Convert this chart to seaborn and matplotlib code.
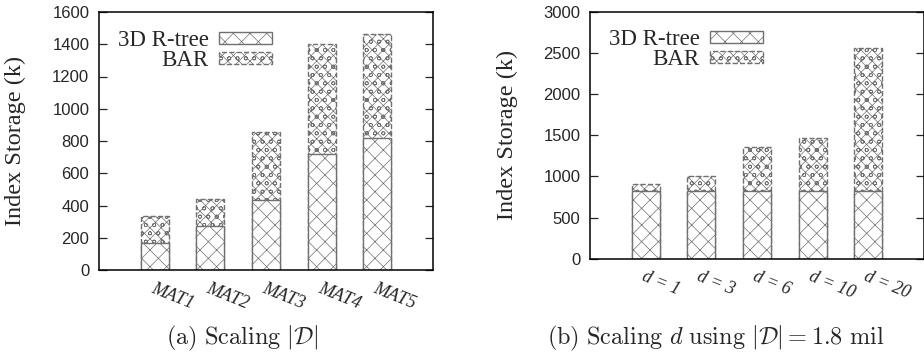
import numpy as np
import matplotlib
matplotlib.use('Agg')
import matplotlib.pyplot as plt
import seaborn as sns

# ── data ───────────────────────────────────────────────────────────────────
mat_labels = ['MAT1', 'MAT2', 'MAT3', 'MAT4', 'MAT5']
mat_rtree = [165, 270, 434, 717, 816]
mat_bar = [172, 168, 419, 682, 645]

d_labels = ['d = 1', 'd = 3', 'd = 6', 'd = 10', 'd = 20']
d_rtree = [819, 819, 819, 819, 819]
d_bar = [89, 190, 539, 644, 1747]

sns.set_style('ticks')
plt.rcParams['font.family'] = ['Liberation Serif', 'DejaVu Serif']
plt.rcParams['mathtext.fontset'] = 'cm'
plt.rcParams['hatch.linewidth'] = 0.5

EDGE = '#707070'
W, H = 924, 355

fig = plt.figure(figsize=(W / 100, H / 100), dpi=100)
ax1 = fig.add_axes([99 / W, (H - 270) / H, 334 / W, 258 / H])
ax2 = fig.add_axes([590 / W, (H - 258.7) / H, 334 / W, 246.7 / H])


def stacked(ax, labels, rtree, bar, ymax, ystep, lpad):
    total = [a + b for a, b in zip(rtree, bar)]
    sns.barplot(x=labels, y=total, order=labels, color='white', saturation=1,
                width=0.5, edgecolor=EDGE, linewidth=1.0, linestyle='--',
                hatch='xxxoo', errorbar=None, label='BAR', ax=ax)
    sns.barplot(x=labels, y=rtree, order=labels, color='white', saturation=1,
                width=0.5, edgecolor=EDGE, linewidth=1.0,
                hatch='xx', errorbar=None, label='3D R-tree', ax=ax)
    ax.set_xlim(-1, 5)
    ax.set_ylim(0, ymax)
    ax.set_yticks(np.arange(0, ymax + 1, ystep))
    for s in ax.spines.values():
        s.set_visible(True)
        s.set_color('black')
        s.set_linewidth(1.1)
    ax.tick_params(axis='y', direction='in', right=True, length=6,
                   width=0.9, pad=7, labelsize=12)
    for t in ax.get_yticklabels():
        t.set_fontfamily('Liberation Sans')
    ax.tick_params(axis='x', length=0, pad=7)
    ax.set_xticks(range(len(labels)))
    ax.set_xticklabels(labels, rotation=-22, ha='left', va='top',
                       rotation_mode='anchor', fontstyle='italic', fontsize=13)
    ax.set_ylabel('Index Storage (k)', fontsize=17.5, labelpad=lpad)
    ax.set_xlabel('')
    h, l = ax.get_legend_handles_labels()
    order = [l.index('3D R-tree'), l.index('BAR')]
    ax.legend([h[i] for i in order], [l[i] for i in order],
              loc='upper left', bbox_to_anchor=(0.057, 0.93),
              markerfirst=False, frameon=False, fontsize=16.5,
              handlelength=2.3, handleheight=0.4, handletextpad=0.45,
              labelspacing=-0.05, borderpad=0, borderaxespad=0)


stacked(ax1, mat_labels, mat_rtree, mat_bar, 1600, 200, 19)
stacked(ax2, d_labels, d_rtree, d_bar, 3000, 500, 18)

fig.text(242 / W, 1 - 338 / H, r'$\mathrm{(a)\ Scaling}\ |\mathcal{D}|$',
         ha='center', va='center', fontsize=17.5)
fig.text(716 / W, 1 - 338 / H,
         r'$\mathrm{(b)\ Scaling}\ d\ \mathrm{using}\ |\mathcal{D}| = 1.8\ \mathrm{mil}$',
         ha='center', va='center', fontsize=17.5)

fig.savefig('out.png', dpi=100)
